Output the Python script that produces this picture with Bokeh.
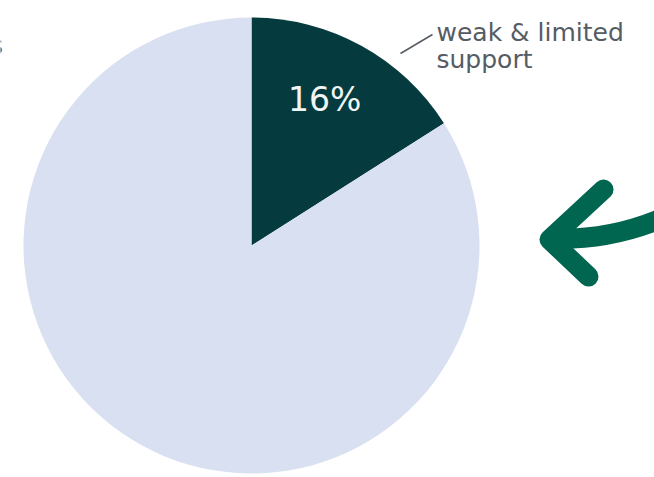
from math import pi
import numpy as np
from bokeh.plotting import figure
from bokeh.models import Range1d, ColumnDataSource
from bokeh.core.properties import value
from bokeh.embed import file_html
from bokeh.resources import INLINE

# Data
categories = ["weak & limited support", "other"]
shares = [16, 84]
colors = ["#053b3f", "#d9e0f1"]
pct_labels = ["16%", ""]

W, H = 654, 477
p = figure(width=W, height=H, output_backend="svg", toolbar_location=None,
           x_range=Range1d(0, W), y_range=Range1d(0, H), min_border=0)
p.axis.visible = False
p.grid.visible = False
p.outline_line_color = None
p.background_fill_color = "white"
p.border_fill_color = "white"

cx, cy, r = 251, H - 245, 228
frac = np.array(shares, dtype=float) / sum(shares)
ends = pi / 2 - np.concatenate([[0], np.cumsum(frac)[:-1]]) * 2 * pi
starts = ends - frac * 2 * pi
src = ColumnDataSource(dict(start=starts, end=ends, color=colors, cat=categories))
p.wedge(x=cx, y=cy, radius=r, start_angle="start", end_angle="end",
        fill_color="color", line_color=None, source=src)

# percentage label inside dark wedge
mid = (starts[0] + ends[0]) / 2
p.text(x=[cx + 0.62 * r * np.cos(mid) + 5], y=[cy + 0.62 * r * np.sin(mid) + 22],
       text=[pct_labels[0]], text_color="#f2f5f5", text_font=value("DejaVu Sans"),
       text_font_size="33px", text_align="center", text_baseline="middle")

# outside label with leader line
p.line(x=[400, 432], y=[H - 53, H - 34], line_color="#555c63", line_width=1.5)
p.text(x=[436, 436], y=[H - 32, H - 59], text=["weak & limited", "support"],
       text_color="#555c63", text_font=value("DejaVu Sans"), text_font_size="25px",
       text_align="left", text_baseline="alphabetic")

# cropped text at left edge
p.text(x=[-10], y=[H - 45], text=["s"], text_color="#555c63",
       text_font=value("DejaVu Sans"), text_font_size="24px", text_baseline="alphabetic")

# green arrow
arrow_col = "#00664f"
p.quadratic(x0=552, y0=H - 238, x1=672, y1=H - 213, cx=615, cy=H - 240,
            line_color=arrow_col, line_width=20)
p.line(x=[603, 549, 588], y=[H - 189, H - 239, H - 276], line_color=arrow_col,
       line_width=20, line_cap="round", line_join="round")

open("out.html", "w").write(file_html(p, INLINE))
